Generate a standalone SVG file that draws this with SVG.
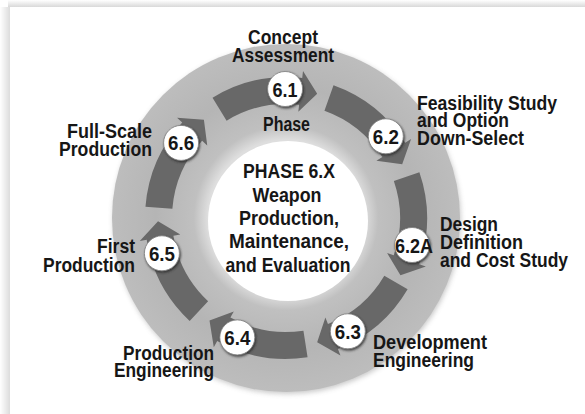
<svg xmlns="http://www.w3.org/2000/svg" xmlns:xlink="http://www.w3.org/1999/xlink" width="585" height="414" viewBox="0 0 585 414">
  <style>
    .t { font-family: "Liberation Sans", Arial, sans-serif; font-weight: bold; font-size: 20px; fill: #161616; }
    .n { font-family: "Liberation Sans", Arial, sans-serif; font-weight: bold; font-size: 20px; fill: #161616; text-anchor: middle; }
    .c { text-anchor: middle; }
    .e { text-anchor: end; }
    .badge { fill: #ffffff; stroke: #7a7a7a; stroke-width: 0.8; filter: url(#bshadow); }
    .arrow { fill: #686868; }
  </style>
  <defs>
    <linearGradient id="topShade" x1="0" y1="0" x2="0" y2="1">
      <stop offset="0" stop-color="#ffffff"/>
      <stop offset="1" stop-color="#d9d9d9"/>
    </linearGradient>
    <linearGradient id="leftShade" x1="0" y1="0" x2="1" y2="0">
      <stop offset="0" stop-color="#ffffff"/>
      <stop offset="1" stop-color="#dcdcdc"/>
    </linearGradient>
    <radialGradient id="ringGrad" cx="0.5" cy="0.5" r="0.5">
      <stop offset="0.45" stop-color="#dedede"/>
      <stop offset="0.53" stop-color="#c0c0c0"/>
      <stop offset="0.75" stop-color="#b5b5b5"/>
      <stop offset="1" stop-color="#bdbdbd"/>
    </radialGradient>
    <filter id="ringShadow" x="-20%" y="-20%" width="140%" height="140%">
      <feGaussianBlur stdDeviation="2.5"/>
    </filter>
    <filter id="bshadow" x="-40%" y="-40%" width="180%" height="180%">
      <feDropShadow dx="1" dy="1.5" stdDeviation="1" flood-color="#2a2a2a" flood-opacity="0.85"/>
    </filter>
    <path id="arc" class="arrow" d="M213.38,97.14 A141,141 0 0 1 303.18,78.06 L304.04,71.11 L318.05,94.08 L299.04,111.8 L299.9,104.85 A114,114 0 0 0 227.29,120.28 Z"/>
  </defs>

  <!-- background panel with soft shadow -->
  <rect x="0" y="0" width="585" height="414" fill="#ffffff"/>
  <rect x="8" y="0" width="577" height="7" fill="url(#topShade)"/>
  <rect x="0" y="7" width="10" height="407" fill="url(#leftShade)"/>

  <!-- ring -->
  <g id="ring">
    <circle cx="287" cy="220" r="174" fill="#8a8a8a" opacity="0.45" filter="url(#ringShadow)"/>
    <circle cx="286" cy="218" r="174" fill="url(#ringGrad)"/>
    <circle cx="288" cy="221" r="80" fill="#ffffff"/>
  </g>

  <!-- connectors: cycle arrows -->
  <g id="connectors">
    <use xlink:href="#arc" transform="rotate(-0.4 286 218)"/>
    <use xlink:href="#arc" transform="rotate(50.7 286 218)"/>
    <use xlink:href="#arc" transform="rotate(102.1 286 218)"/>
    <use xlink:href="#arc" transform="rotate(151.4 286 218)"/>
    <use xlink:href="#arc" transform="rotate(202.2 286 218)"/>
    <use xlink:href="#arc" transform="rotate(254.1 286 218)"/>
    <use xlink:href="#arc" transform="rotate(305.6 286 218)"/>
  </g>

  <g id="center">
    <text class="t c" x="289" y="178" textLength="92" lengthAdjust="spacingAndGlyphs">PHASE 6.X</text>
    <text class="t c" x="287" y="202" textLength="69" lengthAdjust="spacingAndGlyphs">Weapon</text>
    <text class="t c" x="289" y="225" textLength="100" lengthAdjust="spacingAndGlyphs">Production,</text>
    <text class="t c" x="289" y="248" textLength="120" lengthAdjust="spacingAndGlyphs">Maintenance,</text>
    <text class="t c" x="288" y="272" textLength="125" lengthAdjust="spacingAndGlyphs">and Evaluation</text>
  </g>

  <g id="phase-6-1">
    <circle class="badge" cx="285.1" cy="89" r="17.5"/>
    <text class="n" x="285.1" y="96.5" textLength="25" lengthAdjust="spacingAndGlyphs">6.1</text>
    <text class="t c" x="283" y="44" textLength="70" lengthAdjust="spacingAndGlyphs">Concept</text>
    <text class="t c" x="283" y="62" textLength="102" lengthAdjust="spacingAndGlyphs">Assessment</text>
    <text class="t c" x="286.5" y="131" textLength="47" lengthAdjust="spacingAndGlyphs">Phase</text>
  </g>

  <g id="phase-6-2">
    <circle class="badge" cx="385.8" cy="136.3" r="17.5"/>
    <text class="n" x="385.8" y="143.8" textLength="26" lengthAdjust="spacingAndGlyphs">6.2</text>
    <text class="t" x="417" y="110" textLength="140" lengthAdjust="spacingAndGlyphs">Feasibility Study</text>
    <text class="t" x="417" y="127" textLength="92" lengthAdjust="spacingAndGlyphs">and Option</text>
    <text class="t" x="417" y="145" textLength="107" lengthAdjust="spacingAndGlyphs">Down-Select</text>
  </g>

  <g id="phase-6-2a">
    <circle class="badge" cx="412.1" cy="245" r="17.5"/>
    <text class="n" x="414" y="252.5" textLength="38" lengthAdjust="spacingAndGlyphs">6.2A</text>
    <text class="t" x="440" y="231" textLength="58" lengthAdjust="spacingAndGlyphs">Design</text>
    <text class="t" x="440" y="249" textLength="83" lengthAdjust="spacingAndGlyphs">Definition</text>
    <text class="t" x="440" y="267" textLength="128" lengthAdjust="spacingAndGlyphs">and Cost Study</text>
  </g>

  <g id="phase-6-3">
    <circle class="badge" cx="347.8" cy="331.3" r="17.5"/>
    <text class="n" x="347.8" y="338.8" textLength="26" lengthAdjust="spacingAndGlyphs">6.3</text>
    <text class="t" x="373" y="349" textLength="114" lengthAdjust="spacingAndGlyphs">Development</text>
    <text class="t" x="373" y="367" textLength="101" lengthAdjust="spacingAndGlyphs">Engineering</text>
  </g>

  <g id="phase-6-4">
    <circle class="badge" cx="237.3" cy="337.4" r="17.5"/>
    <text class="n" x="237.3" y="344.9" textLength="26" lengthAdjust="spacingAndGlyphs">6.4</text>
    <text class="t e" x="214" y="360" textLength="91" lengthAdjust="spacingAndGlyphs">Production</text>
    <text class="t e" x="214" y="377" textLength="100" lengthAdjust="spacingAndGlyphs">Engineering</text>
  </g>

  <g id="phase-6-5">
    <circle class="badge" cx="161.9" cy="253.3" r="17.5"/>
    <text class="n" x="161.9" y="260.8" textLength="26" lengthAdjust="spacingAndGlyphs">6.5</text>
    <text class="t e" x="135" y="253" textLength="38" lengthAdjust="spacingAndGlyphs">First</text>
    <text class="t e" x="135" y="272" textLength="92" lengthAdjust="spacingAndGlyphs">Production</text>
  </g>

  <g id="phase-6-6">
    <circle class="badge" cx="181.1" cy="142.9" r="17.5"/>
    <text class="n" x="181.1" y="150.4" textLength="26" lengthAdjust="spacingAndGlyphs">6.6</text>
    <text class="t e" x="152" y="138" textLength="85" lengthAdjust="spacingAndGlyphs">Full-Scale</text>
    <text class="t e" x="152" y="156" textLength="93" lengthAdjust="spacingAndGlyphs">Production</text>
  </g>
</svg>
